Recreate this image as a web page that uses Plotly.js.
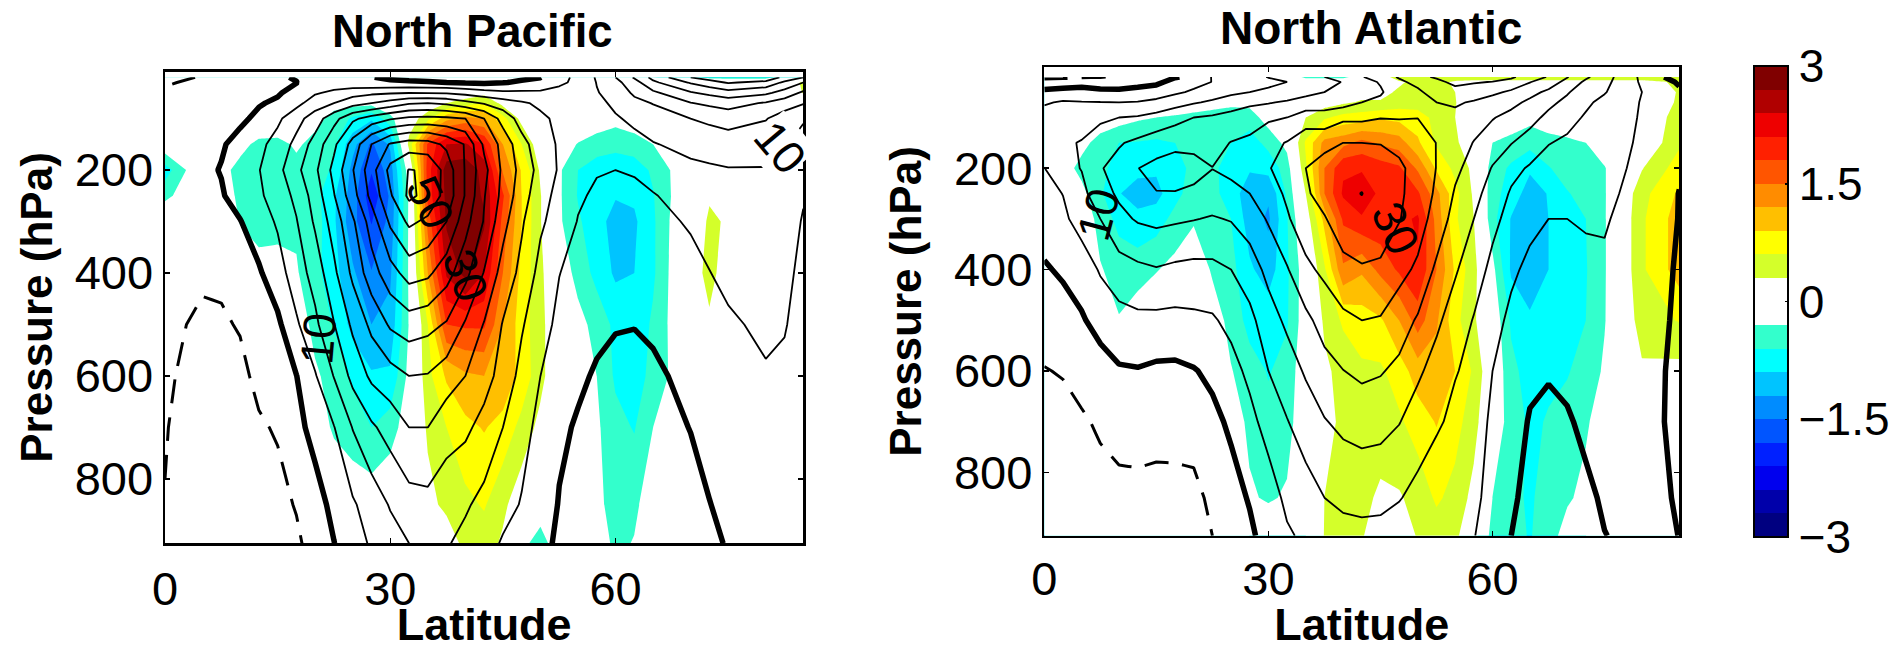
<!DOCTYPE html>
<html><head><meta charset="utf-8">
<script src="https://cdn.plot.ly/plotly-3.0.1.min.js"></script>
<style>html,body{margin:0;padding:0;background:#fff}#chart{width:1898px;height:650px}</style>
</head><body><div id="chart"></div>
<script>
const pressureLevels=[20,30,50,70,100,150,200,250,300,400,500,600,700,850,925];
const latPacific=[0,5,7.5,10,12.5,15,17.5,20,22.5,25,27.5,30,32.5,35,37.5,40,42.5,45,47.5,50,52.5,55,57.5,60,62.5,65,70,72.5,75,80,82.5,85];
const psiPacific=[
[-7,-5.7,-4,-3.5,-3.2,-3,-3,-3.2,-3.4,-3.8,-4.2,-4.5,-4.8,-5.1,-5.2],
[-4.5,-3.5,-2.5,-2,-1.5,-1,-.9,-1.8,-2.8,-4.5,-5.6,-6.3,-7,-8,-8.5],
[-3,-2.5,-1.5,-1,-.6,-.4,.2,-.4,-2.3,-4.3,-5.5,-6.3,-7,-8,-8.5],
[-2,-1.8,-1.4,-1.2,-.7,1.2,2,1.8,-.2,-2.6,-4.7,-6,-7,-8,-8.5],
[-1,-1.2,-.8,-.3,.8,3.7,4.8,4.2,2.6,-.6,-2.5,-4,-5.5,-7,-7.5],
[-.5,-.6,-.4,.6,4,6.9,8.5,7.2,5.6,2.9,-1,-3.5,-4.6,-6.3,-7],
[.3,-.1,1.3,3.5,8.2,11.4,13.7,11.2,9.7,7.6,4.3,-.1,-1.4,-4.7,-5.8],
[1,2.5,4.5,7.5,12.5,17,19,17.2,15.8,11.9,8.9,4.6,1.6,-1.9,-3.1],
[1.5,2.5,6,10,18.3,23.9,26.5,24.7,22.2,18.9,14.8,10.2,4.8,1.25,-.1],
[1,1.5,8,13,24,31.9,34.7,33,29.2,26.1,21,16.5,10.2,4.4,2.9],
[.1,.7,9,15,27,40,43,41.5,37.3,32.8,26.2,21,14.2,7.2,5.6],
[-.5,.6,9.5,17,29.5,45.5,51.5,49.4,45.9,38,30.7,23,17,10.4,7.9],
[-1,.5,9.8,19.5,31,47.5,55.2,56,51,42,32.5,25,20,13,10],
[-1.3,.3,9.7,20,31.5,47,54.5,53.5,49,41,31.5,24.7,20,13.5,10.9],
[-1.5,0,9.5,19,31,44,48,48.2,45,37,29.5,22.4,17,12,10.4],
[-2,-.5,8.5,16.5,30,39.6,39.6,39.6,36.9,31.6,24.4,20,16,10.6,8.7],
[-2,-.8,7,14.5,25,29,31.5,30.3,29.6,24.7,19.7,17,13.3,8.6,6.9],
[-1.5,-.2,6,12.5,18,23.5,24,23.5,21.7,18,14.7,13.1,10,6.6,4.5],
[-.8,.6,6,10.7,13,16.6,18.3,17.2,15.6,13.7,10.5,8.5,6.5,4.7,3.5],
[-.1,1.5,5.9,9,11,12.4,13.2,11.9,10.8,8.4,6.8,5,3.8,3,1.5],
[3,4.6,5.7,7.6,8.9,9.4,9.5,8.5,7.8,5.1,3.9,2.3,.9,-.3,-.9],
[6.5,5.5,5.7,6.5,7.5,8,7.5,5.6,4.8,3.5,2,.8,-.5,-1.5,-2],
[10.5,10.2,9.7,8.7,7.8,7,5.3,4.3,3.7,2.4,1,-.5,-1.6,-2.6,-3],
[15,13.5,12,11,9.5,7.5,5,3.8,3,1.6,.2,-.9,-1.8,-3,-3.5],
[20.5,18,15.8,13.7,11,8.5,5.3,4.2,3.4,1.9,.1,-1,-1.8,-2.8,-3.3],
[26.5,24,19,15.2,12.8,9.7,6.8,4.7,3.9,2.4,.7,-.8,-1.5,-2.5,-3],
[35,30.5,24.5,19.8,15,11.5,8.8,7,5.4,3.8,2.4,1.2,.1,-1.3,-2],
[37.5,33,26.2,21,16,12,9.3,7.8,6.5,4.9,3.4,2.4,1.3,-.1,-.8],
[40,35.5,28,22,17,12.5,9.7,8.5,7.5,6,4.4,3.5,2.5,1,.3],
[39,33.5,26,19.5,15.3,11.5,9.8,9,8.5,7,5.8,4.6,4,3,2.5],
[33.5,29,23,17.5,12.5,10.5,9,8,7.5,6,5.2,4.4,4,3,2.5],
[30,25,19,15.3,10.5,8,6.5,5.4,4.6,4,3.8,3.5,3.2,2.8,2.5]];
const anomPacific=[
[0,0,0,0,0,-.05,-.75,-.38,0,0,0,0,0,0,0],
[0,0,0,0,0,0,.05,0,0,0,0,0,0,0,0],
[0,0,0,0,0,0,-.2,-.1,0,0,0,0,0,0,0],
[0,0,0,0,0,-.2,-.4,-.38,-.32,0,0,0,0,0,0],
[0,0,0,0,0,-.38,-.5,-.5,-.45,-.15,0,0,0,0,0],
[0,0,0,0,0,-.4,-.5,-.5,-.42,-.15,0,0,0,0,0],
[0,0,0,0,0,-.25,-.4,-.35,-.35,-.27,-.1,0,0,0,0],
[0,0,0,0,-.2,-.4,-.45,-.5,-.45,-.5,-.4,-.25,-.1,0,0],
[0,0,0,-.2,-.4,-.55,-.65,-.85,-.85,-.8,-.62,-.42,-.35,0,0],
[0,0,0,-.2,-.65,-1.1,-1.3,-1.35,-1.4,-1.15,-1,-.65,-.45,-.1,0],
[0,0,0,-.2,-.85,-1.55,-1.77,-2,-1.82,-1.48,-1.2,-.86,-.6,-.1,0],
[0,0,0,0,-.4,-1.15,-1.35,-1.45,-1.4,-1.25,-1.1,-.85,-.45,0,0],
[0,0,0,.02,.1,.4,-.1,-.25,-.25,-.25,-.28,-.2,-.1,0,0],
[0,0,0,.05,.5,1.85,1.95,1.9,1.6,1.2,.6,.5,.35,.2,.05],
[0,0,.05,.3,1.1,2.4,2.85,2.8,2.75,2.45,1.8,.95,.6,.38,.1],
[0,0,.1,.45,1.3,2.45,2.9,2.95,2.95,2.8,1.85,1.15,.82,.52,.4],
[0,0,.2,.6,1.2,2.1,2.6,2.65,2.75,2.4,1.85,1.2,.92,.63,.45],
[0,0,.02,.2,.7,1.2,1.45,1.85,1.7,1.5,1.2,1.1,.8,.37,.25],
[0,0,0,.05,.2,.6,.87,.9,.9,.8,.75,.8,.5,.1,-.2],
[0,0,0,0,.05,.1,.25,.32,.32,.38,.4,.4,.2,-.1,-.45],
[0,0,0,0,0,-.1,-.25,-.25,-.25,-.1,0,0,0,-.02,-.08],
[0,0,0,0,0,-.32,-.6,-.62,-.55,-.4,-.2,0,0,0,0],
[0,0,0,0,-.1,-.45,-.75,-.8,-.8,-.7,-.4,-.3,-.25,-.2,-.1],
[0,0,0,0,-.2,-.5,-.8,-.88,-1,-.95,-.68,-.65,-.5,-.45,-.38],
[0,0,0,0,-.1,-.45,-.75,-.85,-.95,-.9,-.8,-.75,-.62,-.37,-.28],
[0,0,0,0,0,-.3,-.55,-.62,-.65,-.65,-.55,-.5,-.3,-.1,0],
[-.25,0,0,0,0,0,0,.05,.15,.2,.1,0,0,0,0],
[-.38,0,0,0,0,0,0,.28,.33,.36,.27,0,0,0,0],
[-.4,0,0,0,0,0,0,.05,.28,.2,0,0,0,0,0],
[-.4,0,0,0,0,0,0,0,0,0,0,0,0,0,0],
[-.2,.1,0,0,0,0,0,0,0,0,0,0,0,0,0],
[0,.35,.32,.05,0,0,0,0,0,0,0,0,0,0,0]];
const latAtlantic=[0,2.5,5,7.5,10,12.5,15,17.5,20,22.5,25,27.5,30,32.5,35,37.5,40,42.5,45,47.5,50,52.5,55,57.5,60,62.5,65,67.5,70,72.5,75,80,85];
const psiAtlantic=[
[-6,-3.5,1.2,4.5,7,8,4.9,3.5,2.2,-.5,-2.9,-5.2,-6.5,-7.5,-8],
[-6,-3,1.9,5.5,8,9.5,8.3,5.1,4,.7,-2.1,-4.7,-6.5,-7.8,-8.2],
[-5.5,-2.5,2.3,5.2,8.5,10.2,10.2,8.6,7.1,2.2,-.5,-3,-5.7,-8,-8.5],
[-5.2,-3,1.3,5.1,9,13,14.7,13,10,5.5,1.7,-2,-4.2,-7,-8],
[-4.5,-2.5,1,5,10,14.6,16.5,15.8,13.7,8,3.2,-.5,-3,-6.5,-7.5],
[-3,-1.8,1.7,5.2,10.5,16,19.9,17.7,15.5,9,3.9,-.3,-3,-6.3,-7.3],
[-2.5,-1,2.5,6.2,11.8,17.5,21.5,19.8,16.2,9.7,3.8,-.9,-3.3,-6.5,-7.6],
[-.3,1.5,4.2,8,13.5,18.3,23,19.7,15.7,9,3.6,-1,-3.2,-6.5,-7.5],
[1,3.5,5.7,9.5,15,18,22.5,18.6,15.2,8.6,4,-.3,-2.7,-6.5,-7.5],
[5.3,5.1,7.5,10.8,15.7,18,20.1,17.6,14.6,8.8,4.4,1,-1.2,-3.8,-5],
[6.8,7,8.8,13,16.3,20.2,21.5,18.2,15.3,10,6.4,3.2,.8,-1.8,-3.3],
[8.5,9,10,14,17.8,21,22.5,20,17.4,12.5,8.7,6.2,3.5,.4,-.9],
[10.2,9,10.8,14.6,19.2,23.5,24.6,23,20.5,16.4,12.8,10,7,2.5,2],
[11.9,10,11.5,15.7,20,25.3,27.5,25.7,24.5,19.6,16,12.6,9.8,6.2,4.3],
[13.5,12,13.5,17,22.5,28,30,29.3,27.5,24,18.8,15.6,12.3,8,6],
[15,13.5,15,17.5,22.2,28.3,32.5,32,29.6,26,22,18.2,14.7,10,7.5],
[17.4,15.2,16.3,18,24,30,33.3,34,33,28.4,24,19.9,16.2,11,8.5],
[19.7,17.8,18,20,24,30,33.5,35.1,33.7,29.5,25,21,17,11.3,8.8],
[22.5,20.5,19.3,21.3,24.8,29.8,32.7,33,32.3,29.3,24.6,20.4,16.6,11.2,8.6],
[25.5,24,23.5,23.5,24.7,28.6,31,30.9,30.3,26.4,22.5,18.8,15.2,10.3,7.5],
[29,26.5,24,24,24.9,27.5,28,27.7,27,24.2,19.4,15.8,12.8,8.5,6.5],
[30.5,29,27.5,25,23.5,24.9,24.9,24.3,23.2,19,15.9,13.2,10.8,6.5,6.2],
[32,31,28.5,25.5,24,22.5,21,19.5,18,15.5,12.8,10.3,8.7,6.6,5.8],
[33,30.5,27,24.6,22.2,19.8,18.2,16.6,15,12.4,9.7,8.7,7.6,6.3,5.2],
[32,29.8,26,22.8,20.3,17.3,14.7,12.8,11.3,8.7,6.6,5,4,3,2.6],
[31,28,24.2,21.4,18.5,15.2,11.3,9.5,8.3,5.8,4,3.2,2.5,1.1,0],
[27,25.2,21.5,19,16.8,12.7,9.5,7.8,6.1,4,2.7,1.1,-.4,-2,-3],
[24.7,22.5,19,16.3,13.7,10.2,7.9,6,5,3.3,2.1,.5,-1.4,-3,-4],
[20.3,18.5,15.5,13.7,11.5,9.2,7.3,5.8,5,3.5,2.4,1.1,-.5,-2.7,-3.6],
[15.9,14,12.1,10.8,9.5,8.2,7.4,6.4,5.4,4,3.1,2.2,1,-.9,-1.6],
[12,11.3,10.3,8.8,8.4,7.5,6.6,5.9,5.3,4.5,3.9,3.2,2.3,.6,-.1],
[4,4.3,5,4.7,4.5,4.2,3.9,3.6,3.4,3,2.6,2.2,1.8,1.5,1.3],
[-2.7,-.6,.8,1.2,1.2,.9,.5,-.1,-.15,-.6,-.9,-1.3,-1.2,-.4,-.05]];
const anomAtlantic=[
[0,0,0,0,0,0,0,0,0,0,0,0,0,0,0],
[0,0,0,0,0,0,-.15,0,0,0,0,0,0,0,0],
[0,0,0,0,0,-.2,-.4,-.2,0,0,0,0,0,0,0],
[0,0,0,0,-.1,-.42,-.5,-.55,-.45,-.27,0,0,0,0,0],
[0,0,0,0,-.15,-.6,-.75,-.88,-.68,-.45,-.28,0,0,0,0],
[0,0,0,0,-.25,-.62,-.8,-1.05,-.8,-.45,-.1,0,0,0,0],
[0,0,0,0,-.3,-.65,-.85,-1,-.75,-.32,0,0,0,0,0],
[0,0,0,0,-.35,-.6,-.75,-.7,-.5,-.2,0,0,0,0,0],
[0,0,0,-.1,-.4,-.5,-.5,-.45,-.35,0,0,0,0,0,0],
[0,0,0,-.15,-.45,-.55,-.55,-.55,-.48,-.35,-.1,0,0,0,0],
[0,0,0,-.2,-.5,-.6,-.7,-.68,-.6,-.5,-.42,-.28,-.1,0,0],
[0,0,0,-.2,-.45,-.75,-.85,-1.15,-1.05,-.85,-.7,-.48,-.38,-.25,0],
[0,0,0,0,-.15,-.5,-.8,-1.15,-1.25,-1.05,-.72,-.62,-.52,-.35,0],
[0,0,0,0,0,-.2,-.45,-.55,-.62,-.65,-.63,-.5,-.45,-.25,-.05],
[-.4,0,0,0,.3,.65,.55,.3,.1,-.1,-.1,-.05,0,0,0],
[-.4,0,0,.15,.55,1.3,1.5,1.5,1,.55,.35,.24,.22,.3,.31],
[-.4,0,0,.25,.7,1.4,2.05,2.15,1.85,1.45,.65,.4,.35,.4,.45],
[-.1,0,.2,.33,.75,1.6,2.05,2.38,2.05,1.25,.75,.55,.47,.38,.32],
[.1,.1,.2,.33,.85,1.45,1.95,2,2,1.6,.85,.55,.45,.25,.15],
[.5,.25,.35,.45,.8,1.35,1.85,1.9,2,1.85,1.2,.75,.55,.27,.15],
[.5,.4,.4,.45,.75,.95,1.45,1.85,2.15,2.05,1.65,1.05,.75,.4,.32],
[.5,.4,.42,.42,.5,.55,.85,1.3,1.4,1.5,1.25,1.05,.92,.65,.45],
[.5,.25,.3,.32,.3,.35,.52,.7,.65,.85,.7,.9,.72,.5,.35],
[.5,.2,0,0,0,.1,.22,.25,.3,.4,.35,.55,.42,.2,.1],
[.5,.2,0,0,0,-.3,-.45,-.5,-.5,-.2,-.05,0,-.05,-.3,-.4],
[.5,.2,0,0,-.05,-.42,-.65,-.72,-.92,-.95,-.65,-.52,-.45,-.5,-.5],
[.5,.2,0,0,-.2,-.5,-.85,-1.05,-1.1,-1.1,-.85,-.72,-.65,-.65,-.62],
[.5,.2,0,0,-.1,-.42,-.62,-.88,-.9,-.9,-.78,-.65,-.58,-.45,-.45],
[.5,.2,0,0,0,-.38,-.48,-.62,-.7,-.75,-.7,-.62,-.5,-.35,-.15],
[.5,.2,0,0,0,-.3,-.4,-.5,-.6,-.62,-.6,-.5,-.35,-.2,0],
[.5,.2,0,0,0,-.1,-.32,-.33,-.33,-.33,-.32,-.25,-.1,0,0],
[.5,.2,0,0,0,0,.28,.5,.55,.55,.45,.25,0,0,0],
[.5,.35,.33,.35,.45,.55,.75,.95,1.05,1.05,.62,.2,0,0,0]];
const bandColors=['#000080','#0000aa','#0000ee','#0020ff','#0055ff','#008cff','#00c4ff','#00ffff','#33ffcc','#ffffff','#ffffff','#d4ff2a','#ffff00','#ffbf00','#ff8c00','#ff5500','#ff2000','#ee0000','#b00000','#800000'];
const colorbarTicks=[-3,-1.5,0,1.5,3];
const colorbarTickText=['\u22123','\u22121.5','0','1.5','3'];
const latTicks=[0,30,60];
const pressureTicks=[200,400,600,800];
const panelTitles=['North Pacific','North Atlantic'];
const contourLabels=[
 {text:'10',lat:20.4,p:528,angle:-85,panel:1},
 {text:'50',lat:35.3,p:262,angle:65,panel:1},
 {text:'30',lat:40,p:404,angle:70,panel:1},
 {text:'10',lat:81.9,p:155,angle:50,panel:1,bg:'#ffffff'},
 {text:'10',lat:7.2,p:292,angle:-75,panel:2},
 {text:'30',lat:47,p:318,angle:65,panel:2}];

const FONT='"Liberation Sans",Arial,sans-serif';
const rows=c=>pressureLevels.map((_,i)=>c.map(col=>col[i]));
const scale=[];
bandColors.forEach((c,k)=>{
  const a=k===0?0:(k+.5)/21, b=k===19?1:(k+1.5)/21;
  scale.push([a,c],[b,c]);
});
function panel(lat,psi,anom,xa,ya,showBar){
  const base={x:lat,y:pressureLevels,xaxis:xa,yaxis:ya,hoverinfo:'skip',showscale:false,autocontour:false};
  const lineTrace=(start,end,size,width,dash)=>Object.assign({},base,{type:'contour',z:rows(psi),
    contours:{coloring:'none',start,end,size},line:{color:'#000',width,dash,smoothing:0}});
  const fill=Object.assign({},base,{type:'contour',z:rows(anom),zmin:-3,zmax:3,colorscale:scale,
    contours:{coloring:'fill',start:-3,end:3,size:.3,showlines:false},line:{width:0,smoothing:0},showscale:showBar});
  if(showBar)fill.colorbar={x:1754/1898,xanchor:'left',y:1-66/650,yanchor:'top',
    lenmode:'pixels',len:471,thicknessmode:'pixels',thickness:34,xpad:0,ypad:0,outlinecolor:'#000',outlinewidth:2,
    tickvals:colorbarTicks,ticktext:colorbarTickText,ticks:'inside',ticklen:4,tickcolor:'#000',tickwidth:1.5,
    ticklabelstandoff:6,tickfont:{family:FONT,size:46,color:'#000'}};
  return [fill,lineTrace(5,70,5,1.8,'solid'),lineTrace(0,0,5,5.5,'solid'),lineTrace(-5,-5,5,3,'24px,14px')];
}
const axis=(extra)=>Object.assign({showgrid:false,zeroline:false,showline:true,linecolor:'#000',linewidth:2.5,mirror:'ticks',
  ticks:'inside',ticklen:5,tickwidth:1.5,tickcolor:'#000',tickfont:{family:FONT,size:47,color:'#000'}},extra);
const W=1898,H=650;
const xTitle=(standoff)=>({text:'Latitude',font:{family:FONT,size:45,color:'#000',weight:'bold'},standoff});
const yTitle=(standoff)=>({text:'Pressure (hPa)',font:{family:FONT,size:44,color:'#000',weight:'bold'},standoff});
const layout={width:W,height:H,margin:{l:0,r:0,t:0,b:0},paper_bgcolor:'#fff',plot_bgcolor:'#fff',showlegend:false,
 xaxis:axis({domain:[165/W,803.3/W],range:[0,85],tickvals:latTicks,ticklabelstandoff:3,anchor:'y',title:xTitle(7)}),
 yaxis:axis({domain:[1-543.3/H,1-71.7/H],range:[925,9],tickvals:pressureTicks,ticklabelstandoff:0,anchor:'x',title:yTitle(9)}),
 xaxis2:axis({domain:[1044.3/W,1679.3/W],range:[0,85],tickvals:latTicks,ticklabelstandoff:0,anchor:'y2',title:xTitle(4)}),
 yaxis2:axis({domain:[1-535.7/H,1-67.3/H],range:[925,1],tickvals:pressureTicks,ticklabelstandoff:0,anchor:'x2',title:yTitle(19)}),
 annotations:[
  {text:'<b>'+panelTitles[0]+'</b>',xref:'paper',yref:'paper',x:472/W,y:1-31/H,xanchor:'center',yanchor:'middle',showarrow:false,font:{family:FONT,size:45.5,color:'#000'}},
  {text:'<b>'+panelTitles[1]+'</b>',xref:'paper',yref:'paper',x:1371/W,y:1-28/H,xanchor:'center',yanchor:'middle',showarrow:false,font:{family:FONT,size:46,color:'#000'}}
 ].concat(contourLabels.map(l=>({text:l.text,xref:l.panel===1?'x':'x2',yref:l.panel===1?'y':'y2',x:l.lat,y:l.p,textangle:l.angle,showarrow:false,
   bgcolor:l.bg||'rgba(0,0,0,0)',borderpad:0,xanchor:'center',yanchor:'middle',font:{family:FONT,size:46,color:'#000'}})))
};
const traces=panel(latPacific,psiPacific,anomPacific,'x','y',true).concat(panel(latAtlantic,psiAtlantic,anomAtlantic,'x2','y2',false));
Plotly.newPlot('chart',traces,layout,{displayModeBar:false,staticPlot:true});
</script></body></html>
